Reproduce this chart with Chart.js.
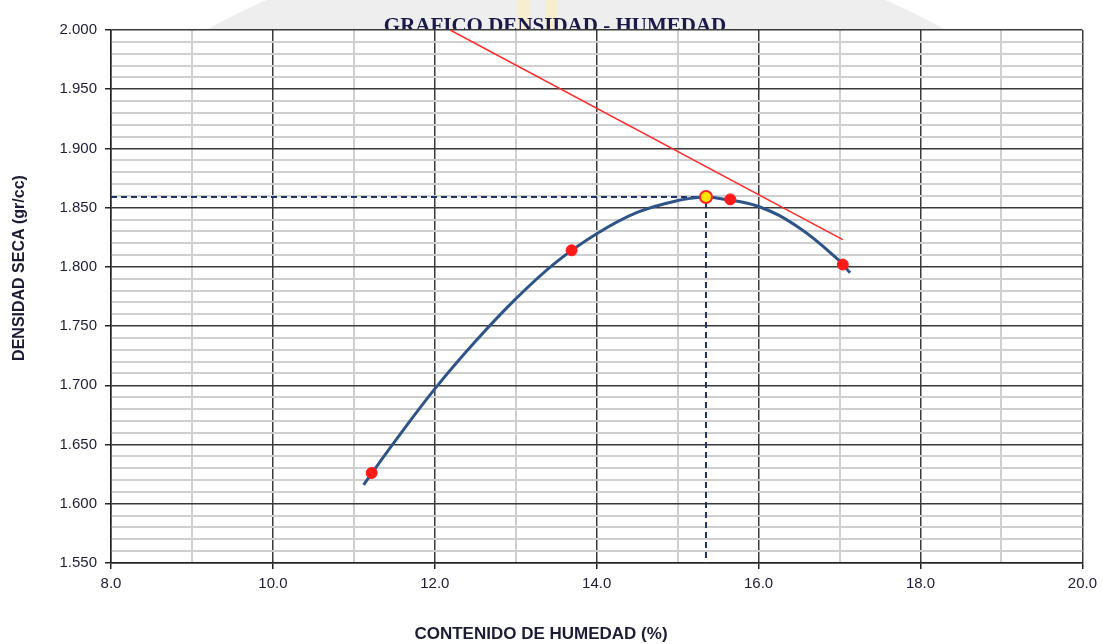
<!DOCTYPE html>
<html>
<head>
<meta charset="utf-8">
<title>Gráfico Densidad - Humedad</title>
<script src="https://cdn.jsdelivr.net/npm/chart.js@4/dist/chart.umd.min.js"></script>
<style>
  html, body { margin: 0; padding: 0; background: #ffffff; }
  #wrap { position: relative; width: 1103px; height: 644px; }
</style>
</head>
<body>
<div id="wrap"><canvas id="grafico"></canvas></div>
<script>
// Ensayo Proctor: puntos de laboratorio (humedad %, densidad seca gr/cc)
const humedad = [11.22, 13.69, 15.65, 17.04];
const densidad = [1.626, 1.814, 1.857, 1.802];

// Curva de compactación ajustada
const curvaHumedad = [11.12, 11.50, 12.00, 12.50, 13.00, 13.50, 14.00, 14.50, 15.00, 15.35, 15.50, 16.00, 16.50, 17.00, 17.13];
const curvaDensidad = [1.616, 1.652, 1.697, 1.737, 1.773, 1.804, 1.828, 1.846, 1.856, 1.859, 1.858, 1.851, 1.833, 1.805, 1.795];

// Óptimo: humedad óptima y densidad seca máxima
const humedadOptima = 15.35;
const densidadMaxima = 1.859;

// Línea de saturación
const saturacionHumedad = [12.19, 17.04];
const saturacionDensidad = [2.000, 1.823];

// Ejes
const ejeX = { min: 8, max: 20, paso: 1, pasoEtiqueta: 2 };
const ejeY = { min: 1.55, max: 2.0, paso: 0.01, pasoEtiqueta: 0.05 };

const toXY = (xs, ys) => xs.map((x, i) => ({ x: x, y: ys[i] }));

const textColor = '#1c1c34';
const majorGrid = '#3a3a3a';
const minorGrid = '#cfcfcf';

const isMajorX = v => Math.abs(Math.round(v) % ejeX.pasoEtiqueta) === 0;
const isMajorY = v => Math.round(v * 100) % Math.round(ejeY.pasoEtiqueta * 100) === 0;

// Fondo, sello de agua y títulos
const decor = {
  id: 'decor',
  beforeDraw(chart) {
    const { ctx, chartArea: a } = chart;
    ctx.save();
    ctx.fillStyle = '#ffffff';
    ctx.fillRect(0, 0, chart.width, chart.height);
    // sello de fondo (solo visible sobre el área de trazado)
    ctx.save();
    ctx.beginPath();
    ctx.rect(0, 0, chart.width, a.top);
    ctx.clip();
    ctx.fillStyle = '#eeeeee';
    ctx.beginPath();
    ctx.arc(576, 705, 770, 0, Math.PI * 2);
    ctx.fill();
    ctx.fillStyle = '#f7eed0';
    ctx.fillRect(517, 0, 13, a.top);
    ctx.fillRect(545, 0, 13, a.top);
    ctx.restore();
    // título
    ctx.fillStyle = '#1a1a48';
    ctx.font = 'bold 21px "Liberation Serif", "Times New Roman", serif';
    ctx.textAlign = 'center';
    ctx.textBaseline = 'alphabetic';
    ctx.fillText('GRAFICO DENSIDAD - HUMEDAD', 555, 32);
    // área de trazado en blanco
    ctx.fillStyle = '#ffffff';
    ctx.fillRect(a.left, a.top, a.right - a.left, a.bottom - a.top);
    ctx.restore();
  },
  afterDraw(chart) {
    const { ctx } = chart;
    ctx.save();
    ctx.fillStyle = textColor;
    ctx.textAlign = 'center';
    ctx.textBaseline = 'middle';
    ctx.font = 'bold 17px "Liberation Sans", Arial, sans-serif';
    ctx.fillText('CONTENIDO DE HUMEDAD (%)', 541, 634);
    ctx.font = 'bold 16px "Liberation Sans", Arial, sans-serif';
    ctx.translate(20, 268);
    ctx.rotate(-Math.PI / 2);
    ctx.fillText('DENSIDAD SECA (gr/cc)', 0, 0);
    ctx.restore();
  }
};

new Chart(document.getElementById('grafico'), {
  type: 'scatter',
  data: {
    datasets: [
      {
        label: 'Óptimo',
        data: [{ x: humedadOptima, y: densidadMaxima }],
        pointRadius: 6,
        pointBackgroundColor: '#ffe600',
        pointBorderColor: '#ff2020',
        pointBorderWidth: 2,
        showLine: false
      },
      {
        label: 'Puntos',
        data: toXY(humedad, densidad),
        pointRadius: 5.5,
        pointBackgroundColor: '#ff1a1a',
        pointBorderColor: '#ff1a1a',
        pointBorderWidth: 1,
        showLine: false
      },
      {
        label: 'Saturación',
        data: toXY(saturacionHumedad, saturacionDensidad),
        showLine: true,
        borderColor: '#ff2a2a',
        borderWidth: 1.5,
        pointRadius: 0
      },
      {
        label: 'Curva',
        data: toXY(curvaHumedad, curvaDensidad),
        showLine: true,
        borderColor: '#2f5588',
        borderWidth: 3,
        pointRadius: 0,
        tension: 0.4
      },
      {
        label: 'Referencia',
        data: [
          { x: ejeX.min, y: densidadMaxima },
          { x: humedadOptima, y: densidadMaxima },
          { x: humedadOptima, y: ejeY.min }
        ],
        showLine: true,
        borderColor: '#1f3468',
        borderWidth: 2,
        borderDash: [6, 4],
        pointRadius: 0,
        tension: 0
      }
    ]
  },
  options: {
    responsive: true,
    maintainAspectRatio: false,
    animation: false,
    layout: { padding: { left: 0, right: 20, top: 30, bottom: 0 } },
    plugins: {
      legend: { display: false },
      tooltip: { enabled: false },
      title: { display: false }
    },
    scales: {
      x: {
        type: 'linear',
        min: ejeX.min,
        max: ejeX.max,
        afterFit(scale) { scale.height = 81; },
        border: { display: true, color: '#222222', width: 1.5 },
        grid: {
          color: c => isMajorX(c.tick.value) ? majorGrid : minorGrid,
          lineWidth: c => isMajorX(c.tick.value) ? 1.5 : 2,
          tickColor: c => isMajorX(c.tick.value) ? '#222222' : 'rgba(0,0,0,0)',
          tickLength: 6,
          drawTicks: true
        },
        ticks: {
          stepSize: ejeX.paso,
          autoSkip: false,
          maxTicksLimit: 100,
          maxRotation: 0,
          padding: 6,
          color: textColor,
          font: { family: '"Liberation Sans", Arial, sans-serif', size: 15 },
          callback: v => isMajorX(v) ? Number(v).toFixed(1) : ''
        }
      },
      y: {
        type: 'linear',
        min: ejeY.min,
        max: ejeY.max,
        afterFit(scale) { scale.width = 111; },
        border: { display: true, color: '#222222', width: 1.5 },
        grid: {
          color: c => isMajorY(c.tick.value) ? majorGrid : minorGrid,
          lineWidth: c => isMajorY(c.tick.value) ? 1.5 : 2,
          tickColor: c => isMajorY(c.tick.value) ? '#222222' : 'rgba(0,0,0,0)',
          tickLength: 6,
          drawTicks: true
        },
        ticks: {
          stepSize: ejeY.paso,
          autoSkip: false,
          maxTicksLimit: 100,
          padding: 8,
          color: textColor,
          font: { family: '"Liberation Sans", Arial, sans-serif', size: 15 },
          callback: v => isMajorY(v) ? Number(v).toFixed(3) : ''
        }
      }
    }
  },
  plugins: [decor]
});
</script>
</body>
</html>
